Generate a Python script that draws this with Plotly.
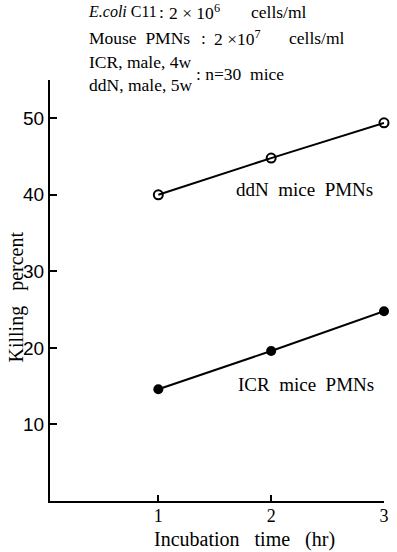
import plotly.graph_objects as go

hours = [1, 2, 3]
ddn_kill = [40.0, 44.8, 49.4]
icr_kill = [14.6, 19.6, 24.8]
y_ticks = [10, 20, 30, 40, 50]
x_ticks = [1, 2, 3]

SERIF = "Liberation Serif"

# plot area in window pixels: x 50..389, y 80..501
def px(x):
    return (x - 50) / 339


def py(y):
    return (501 - y) / 421


fig = go.Figure()
fig.add_trace(go.Scatter(
    x=hours, y=ddn_kill, mode="lines+markers", cliponaxis=False,
    line=dict(color="black", width=2),
    marker=dict(symbol="circle-open", size=9, color="black", line=dict(width=2)),
    showlegend=False))
fig.add_trace(go.Scatter(
    x=hours, y=icr_kill, mode="lines+markers", cliponaxis=False,
    line=dict(color="black", width=2),
    marker=dict(symbol="circle", size=10, color="black"),
    showlegend=False))

H = 17.5
ann = [
    dict(x=px(308), y=py(189), text="ddN  mice  PMNs", font=dict(size=19), xanchor="center"),
    dict(x=px(310), y=py(384), text="ICR  mice  PMNs", font=dict(size=19), xanchor="center"),
    # header block
    dict(x=px(87), y=py(12), text="<i>E.coli</i> C11", font=dict(size=16), xanchor="left"),
    dict(x=px(163), y=py(12), text=":", font=dict(size=H), xanchor="center"),
    dict(x=px(169), y=py(12), text="2 × 10<sup>6</sup>", font=dict(size=H), xanchor="left"),
    dict(x=px(313), y=py(12), text="cells/ml", font=dict(size=H), xanchor="right"),
    dict(x=px(88), y=py(38), text="Mouse  PMNs", font=dict(size=H), xanchor="left"),
    dict(x=px(206), y=py(38), text=":", font=dict(size=H), xanchor="center"),
    dict(x=px(214), y=py(38), text="2 ×10<sup>7</sup>", font=dict(size=H), xanchor="left"),
    dict(x=px(351), y=py(38), text="cells/ml", font=dict(size=H), xanchor="right"),
    dict(x=px(88), y=py(62), text="ICR, male, 4w", font=dict(size=H), xanchor="left"),
    dict(x=px(88), y=py(85), text="ddN, male, 5w", font=dict(size=H), xanchor="left"),
    dict(x=px(196), y=py(74), text=": n=30  mice", font=dict(size=H), xanchor="left"),
    # axis titles
    dict(x=px(247), y=py(539), text="Incubation   time   (hr)", font=dict(size=20),
         xanchor="center"),
    dict(x=px(15), y=py(297), text="Killing   percent", font=dict(size=20),
         textangle=-90, xanchor="center"),
]
for a in ann:
    a.setdefault("showarrow", False)
    a.setdefault("yanchor", "middle")
    a["xref"] = "paper"
    a["yref"] = "paper"
    a["font"]["family"] = SERIF
    a["font"]["color"] = "black"
    fig.add_annotation(**a)

fig.update_layout(
    width=397, height=552,
    margin=dict(l=50, r=8, t=80, b=51),
    paper_bgcolor="white", plot_bgcolor="white",
    font=dict(family=SERIF, color="black"),
    xaxis=dict(range=[0.04, 3.0], tickvals=x_ticks, ticks="inside", ticklen=6,
               tickwidth=1.5, tickcolor="black", showline=True, linecolor="black",
               linewidth=2, showgrid=False, zeroline=False, ticklabelstandoff=-3,
               tickfont=dict(size=18, family=SERIF)),
    yaxis=dict(range=[0, 55], tickvals=y_ticks, ticks="inside", ticklen=7,
               tickwidth=2, tickcolor="black", showline=True, linecolor="black",
               linewidth=2, showgrid=False, zeroline=False,
               tickfont=dict(size=19, family="Liberation Sans Narrow, Liberation Sans")),
)
fig.write_html("out.html",
               config={"displayModeBar": False},
               post_script="document.body.style.margin='0';document.body.style.overflow='hidden';")
